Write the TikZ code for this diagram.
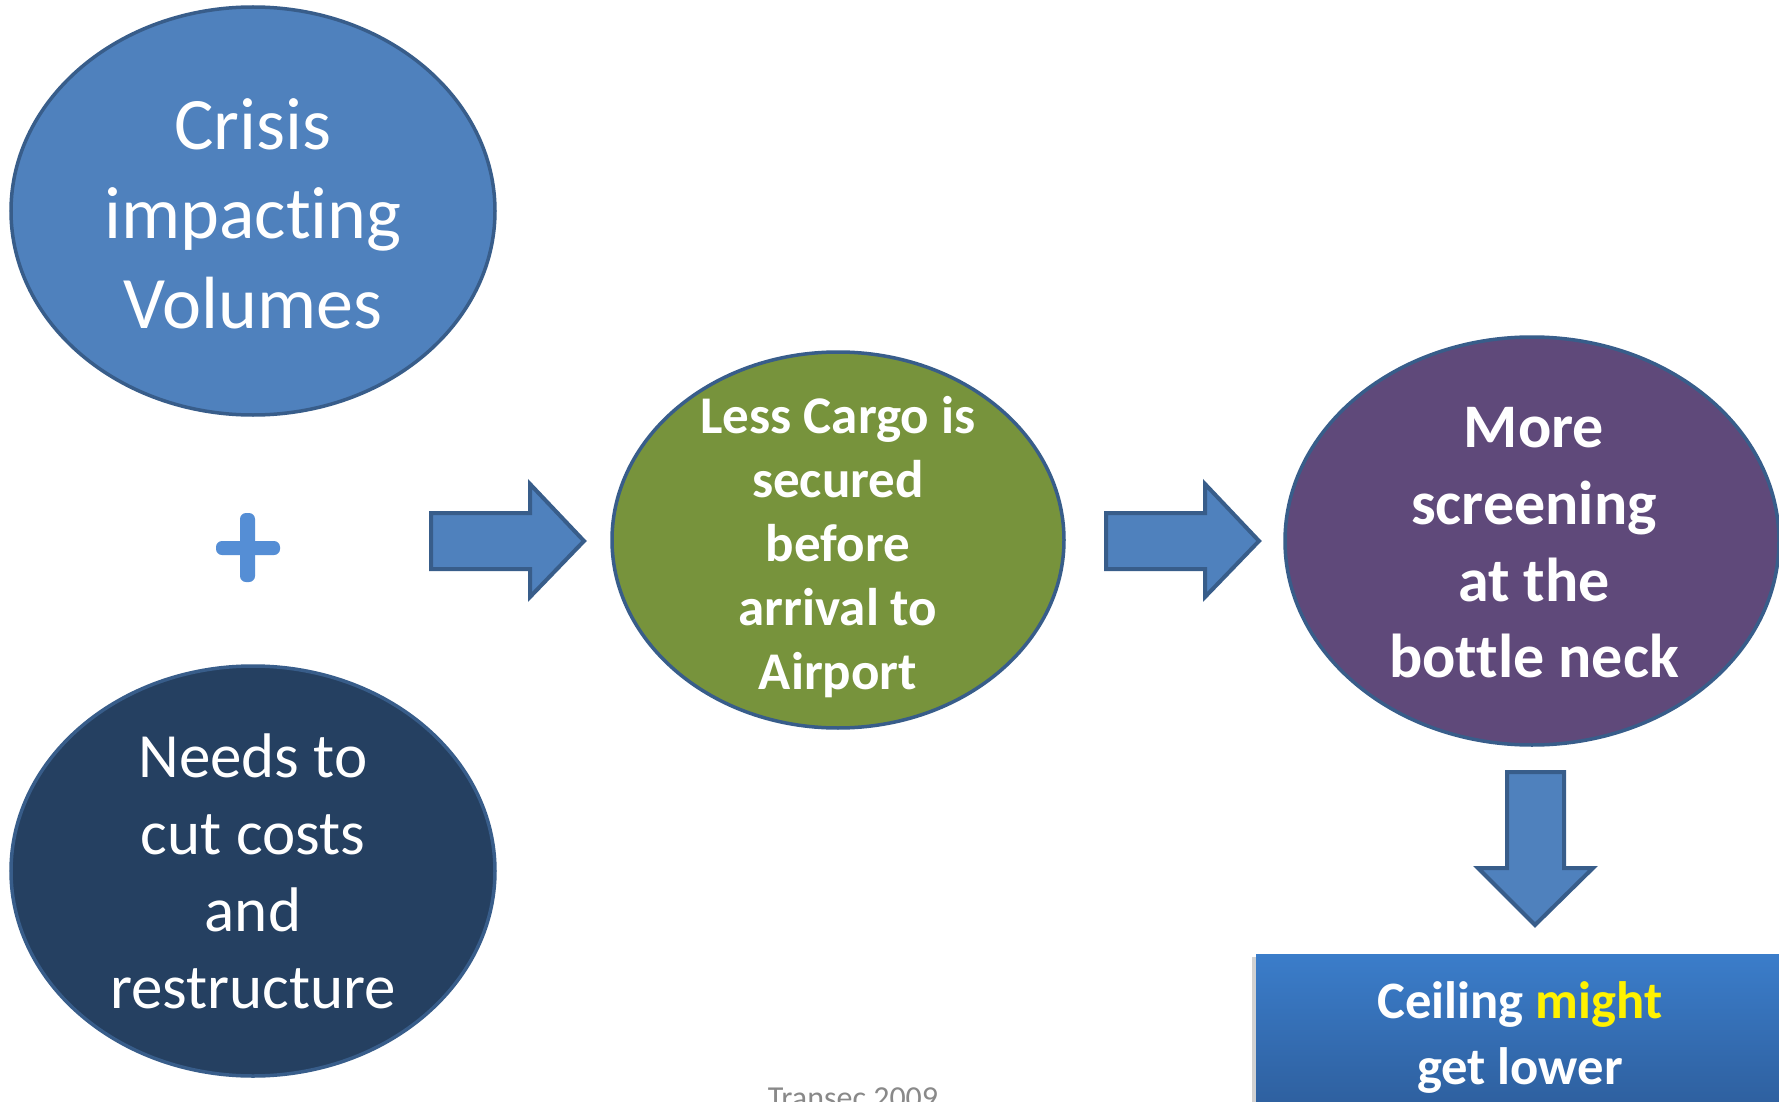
\documentclass[tikz,border=0pt]{standalone}
\usepackage{fontspec}
\setmainfont{Carlito}[Ligatures={NoCommon,NoDiscretionary,NoContextual}]
\usetikzlibrary{shapes.geometric}
\definecolor{cBlue}{HTML}{4F81BD}
\definecolor{cNavy}{HTML}{254061}
\definecolor{cGreen}{HTML}{77933C}
\definecolor{cPurple}{HTML}{5F497A}
\definecolor{cBorder}{HTML}{385D8A}
\definecolor{cPlus}{HTML}{558ED5}
\definecolor{cBoxTop}{HTML}{3B7DCA}
\definecolor{cBoxBot}{HTML}{2D5D9B}
\definecolor{cGray}{HTML}{898989}
\tikzset{
  oval/.style={ellipse, draw=cBorder, line width=1.75pt, inner sep=0pt},
  txt/.style={text=white, align=center, inner sep=0pt},
  blockarrow/.style={fill=cBlue, draw=cBorder, line width=2pt, line join=miter},
}
\begin{document}
\begin{tikzpicture}[x=0.5pt, y=-0.5pt]
\useasboundingbox (0,0) rectangle (1779,1102);
\clip (0,0) rectangle (1779,1102);
\fill[white] (0,0) rectangle (1779,1102);

% ellipses
\node[oval, fill=cBlue, minimum width=242pt, minimum height=204pt] (crisis) at (253,211) {};
\node[oval, fill=cNavy, minimum width=242pt, minimum height=205pt] (needs) at (253,871) {};
\node[oval, fill=cGreen, minimum width=226pt, minimum height=188pt] (less) at (838,540) {};
\node[oval, fill=cPurple, minimum width=247pt, minimum height=204pt] (more) at (1532,541) {};

% texts
\node[txt, font={\fontsize{37pt}{44.75pt}\selectfont}] (crisisT) at (253,213.5) {Crisis\\impacting\\Volumes};
\node[txt, font={\fontsize{31.5pt}{38.5pt}\selectfont}] (needsT) at (253,871.5) {Needs to\\cut costs\\and\\restructure};
\node[txt, font={\fontsize{26.5pt}{32pt}\selectfont\bfseries}] (lessT) at (838,547.5) {Less Cargo is\\secured\\before\\arrival to\\Airport};
\node[txt, font={\fontsize{31pt}{38.3pt}\selectfont\bfseries}] (moreT) at (1534,543) {More\\screening\\at the\\bottle neck};

% plus sign
\fill[cPlus, rounded corners=3pt] (216,541) rectangle (280,555);
\fill[cPlus, rounded corners=3pt] (240,513) rectangle (255,582);

% block arrows
\draw[blockarrow] (431,513) -- (530,513) -- (530,484) -- (584,541) -- (530,597) -- (530,569) -- (431,569) -- cycle;
\draw[blockarrow] (1106,513) -- (1205,513) -- (1205,484) -- (1259,541) -- (1205,597) -- (1205,569) -- (1106,569) -- cycle;
\draw[blockarrow] (1507,772) -- (1564,772) -- (1564,868) -- (1593,868) -- (1535,925) -- (1478,868) -- (1507,868) -- cycle;

% result box
\fill[black!18] (1252,957) rectangle (1800,1120);
\shade[top color=cBoxTop, bottom color=cBoxBot] (1256,954) rectangle (1800,1120);
\node[txt, font={\fontsize{26.3pt}{33pt}\selectfont\bfseries}] (ceilT) at (1520,1037) {Ceiling \textcolor{yellow}{might}\\get lower};

% footer
\node[anchor=base, inner sep=0pt, text=cGray, font={\fontsize{16pt}{19pt}\selectfont}] (footer) at (853,1108) {Transec 2009};
\end{tikzpicture}
\end{document}
